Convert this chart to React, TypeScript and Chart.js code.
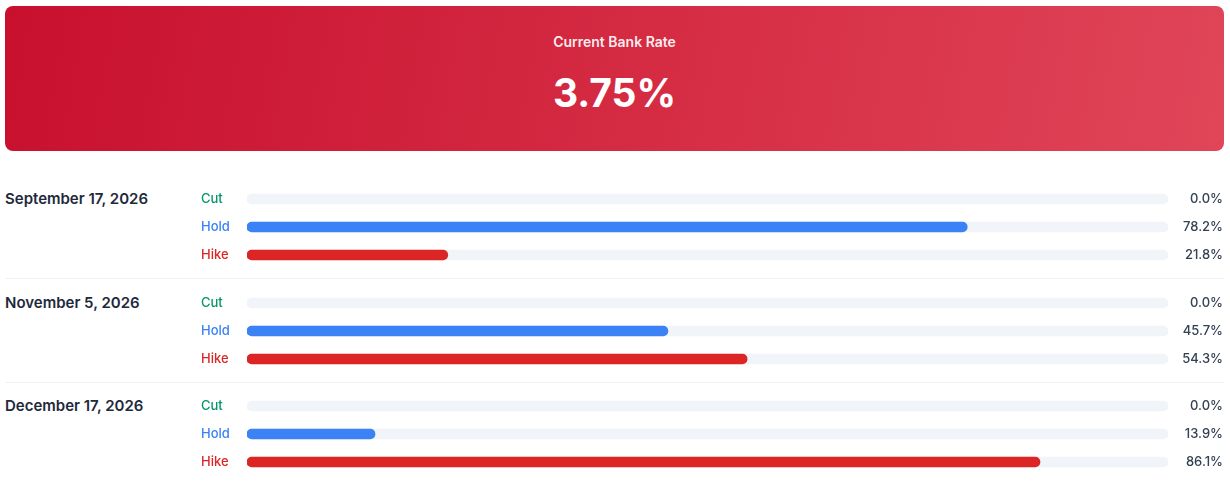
import React, { useEffect, useRef } from "react";
import { Chart, registerables } from "chart.js";

Chart.register(...registerables);

const currentRateTitle = "Current Bank Rate";
const currentRate = "3.75%";
const meetingDates = ["September 17, 2026", "November 5, 2026", "December 17, 2026"];
const outcomes = ["Cut", "Hold", "Hike"];
const cutProb = [0.0, 0.0, 0.0];
const holdProb = [78.2, 45.7, 13.9];
const hikeProb = [21.8, 54.3, 86.1];

const outcomeColors = ["#059669", "#3b82f6", "#dc2626"];
const trackColor = "#f1f4f8";
const FONT = "Inter, 'Noto Sans', sans-serif";

function MeetingChart({ values }: { values: number[] }) {
  const ref = useRef<HTMLCanvasElement | null>(null);
  useEffect(() => {
    if (!ref.current) return;
    const pct = values.map((v) => v.toFixed(1) + "%");
    const noPad = (s: any, w: number) => {
      s.width = w;
      s.paddingTop = 0;
      s.paddingBottom = 0;
    };
    const chart = new Chart(ref.current, {
      type: "bar",
      data: {
        labels: outcomes,
        datasets: [
          {
            data: values,
            backgroundColor: (ctx: any) => (ctx.raw > 0 ? outcomeColors[ctx.dataIndex] : "rgba(0,0,0,0)"),
            barThickness: 10,
            borderRadius: 5,
            borderSkipped: false,
            grouped: false,
          } as any,
          {
            data: outcomes.map(() => 100),
            backgroundColor: trackColor,
            barThickness: 10,
            borderRadius: 5,
            borderSkipped: false,
            grouped: false,
          } as any,
        ],
      },
      options: {
        indexAxis: "y",
        responsive: false,
        animation: false,
        layout: { padding: 0 },
        plugins: { legend: { display: false }, tooltip: { enabled: false } },
        scales: {
          x: { display: false, min: 0, max: 100 },
          y: {
            type: "category",
            position: "left",
            offset: true,
            grid: { display: false },
            border: { display: false },
            ticks: {
              crossAlign: "far",
              padding: 0,
              color: (ctx: any) => outcomeColors[ctx.index],
              font: { family: FONT, size: 13, weight: "500" },
            },
            afterFit: (s: any) => noPad(s, 46),
          },
          yRight: {
            type: "category",
            position: "right",
            labels: pct,
            offset: true,
            grid: { display: false },
            border: { display: false },
            ticks: {
              crossAlign: "far",
              padding: 0,
              color: "#334155",
              font: { family: FONT, size: 13, weight: "500" },
            },
            afterFit: (s: any) => noPad(s, 55),
          },
        },
      } as any,
    });
    return () => chart.destroy();
  }, [values]);
  return <canvas ref={ref} width={1022} height={84} style={{ display: "block", width: 1022, height: 84 }} />;
}

export default function App() {
  const groupTops = [185, 289, 392];
  return (
    <div style={{ position: "absolute", left: 0, top: 0, width: 1230, height: 482, background: "#fff", fontFamily: FONT }}>
      <div
        style={{
          position: "absolute",
          left: 5,
          top: 6,
          width: 1219,
          height: 145,
          borderRadius: 8,
          background: "linear-gradient(100deg, #c8102e 0%, #d42a42 50%, #e04558 100%)",
          color: "#fff",
          textAlign: "center",
        }}
      >
        <div style={{ position: "absolute", left: 0, right: 0, top: 27, fontSize: 14, fontWeight: 600, lineHeight: "17px", color: "rgba(255,255,255,0.93)" }}>
          {currentRateTitle}
        </div>
        <div style={{ position: "absolute", left: 0, right: 0, top: 63, fontSize: 39, fontWeight: 700, lineHeight: "48px" }}>
          {currentRate}
        </div>
      </div>
      {meetingDates.map((d, i) => (
        <React.Fragment key={d}>
          <div
            style={{
              position: "absolute",
              left: 5,
              top: groupTops[i] + 4,
              fontSize: 15,
              fontWeight: 600,
              color: "#1e293b",
              lineHeight: "20px",
            }}
          >
            {d}
          </div>
          <div style={{ position: "absolute", left: 201, top: groupTops[i] }}>
            <MeetingChart values={[cutProb[i], holdProb[i], hikeProb[i]]} />
          </div>
          {i < meetingDates.length - 1 && (
            <div style={{ position: "absolute", left: 5, width: 1219, top: groupTops[i] + 93, height: 1, background: "#eef1f5" }} />
          )}
        </React.Fragment>
      ))}
    </div>
  );
}
